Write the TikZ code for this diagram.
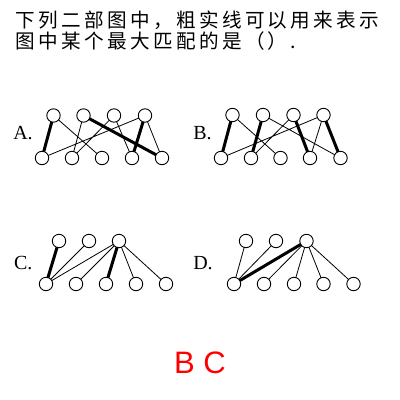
\documentclass[tikz,border=0pt]{standalone}
\usepackage{fontspec}
\setmainfont{Liberation Serif}
\newfontfamily\cjk{Noto Sans CJK SC}[LetterSpace=17]
\newfontfamily\answerfont{Liberation Sans}

\begin{document}
\begin{tikzpicture}[x=1pt, y=-1pt, vertex/.style={circle, draw, fill=white, line width=0.9pt, minimum size=13.4pt, inner sep=0pt, outer sep=0pt}, link/.style={line width=0.8pt}, match/.style={line width=3pt}, choice/.style={font=\fontsize{20}{20}\selectfont}]
        \useasboundingbox (0,0) rectangle (400,400);
        \node[anchor=base west, inner sep=0pt, font=\cjk\fontsize{19.6}{19.6}\selectfont](line_one) at (15.5, 27) {下列二部图中，粗实线可以用来表示};
        \node[anchor=base west, inner sep=0pt, font=\cjk\fontsize{19.6}{19.6}\selectfont](line_two) at (15.5, 48.7) {图中某个最大匹配的是（）.};

        % graph A
        \node[choice](label_a) at (23, 133) {A.};
        \node[vertex](a_t1) at (53.5, 115.5) {};
        \node[vertex](a_t2) at (83.5, 115.5) {};
        \node[vertex](a_t3) at (114, 115.5) {};
        \node[vertex](a_t4) at (145, 115.5) {};
        \node[vertex](a_b1) at (42, 158) {};
        \node[vertex](a_b2) at (72, 158) {};
        \node[vertex](a_b3) at (102, 158) {};
        \node[vertex](a_b4) at (132, 158) {};
        \node[vertex](a_b5) at (162, 158) {};
        \draw[link] (a_t1) -- (a_b3) (a_t2) -- (a_b2) (a_t3) -- (a_b2) (a_t3) -- (a_b4)
                    (a_t4) -- (a_b1) (a_t4) -- (a_b5);
        \draw[match] (a_t1) -- (a_b1) (a_t2) -- (a_b5) (a_t4) -- (a_b4);

        % graph B
        \node[choice](label_b) at (202.5, 133) {B.};
        \node[vertex](b_t1) at (232.5, 115) {};
        \node[vertex](b_t2) at (263, 115) {};
        \node[vertex](b_t3) at (293.5, 115) {};
        \node[vertex](b_t4) at (323.5, 115) {};
        \node[vertex](b_b1) at (221, 158) {};
        \node[vertex](b_b2) at (251, 158) {};
        \node[vertex](b_b3) at (280.5, 158) {};
        \node[vertex](b_b4) at (310, 158) {};
        \node[vertex](b_b5) at (340.5, 158) {};
        \draw[link] (b_t1) -- (b_b3) (b_t2) -- (b_b5) (b_t3) -- (b_b2)
                    (b_t4) -- (b_b1) (b_t4) -- (b_b4);
        \draw[match] (b_t1) -- (b_b1) (b_t2) -- (b_b2) (b_t3) -- (b_b4) (b_t4) -- (b_b5);

        % graph C
        \node[choice](label_c) at (23.3, 263) {C.};
        \node[vertex](c_t1) at (59, 241) {};
        \node[vertex](c_t2) at (89, 241) {};
        \node[vertex](c_t3) at (119, 241) {};
        \node[vertex](c_b1) at (46, 284) {};
        \node[vertex](c_b2) at (76, 284) {};
        \node[vertex](c_b3) at (106, 284) {};
        \node[vertex](c_b4) at (136, 284) {};
        \node[vertex](c_b5) at (166, 284) {};
        \draw[link] (c_t2) -- (c_b1) (c_t3) -- (c_b1) (c_t3) -- (c_b2)
                    (c_t3) -- (c_b4) (c_t3) -- (c_b5);
        \draw[match] (c_t1) -- (c_b1) (c_t3) -- (c_b3);

        % graph D
        \node[choice](label_d) at (203, 263) {D.};
        \node[vertex](d_t1) at (246, 241) {};
        \node[vertex](d_t2) at (276, 241) {};
        \node[vertex](d_t3) at (306.5, 241) {};
        \node[vertex](d_b1) at (234, 284) {};
        \node[vertex](d_b2) at (264, 284) {};
        \node[vertex](d_b3) at (294, 284) {};
        \node[vertex](d_b4) at (323.5, 284) {};
        \node[vertex](d_b5) at (353.5, 284) {};
        \draw[link] (d_t1) -- (d_b1) (d_t2) -- (d_b1) (d_t3) -- (d_b2)
                    (d_t3) -- (d_b3) (d_t3) -- (d_b4) (d_t3) -- (d_b5);
        \draw[match] (d_t3) -- (d_b1);

        \node[text=red, font=\answerfont\fontsize{31}{31}\selectfont](answer) at (200, 363) {B C};
    \end{tikzpicture}
\end{document}
